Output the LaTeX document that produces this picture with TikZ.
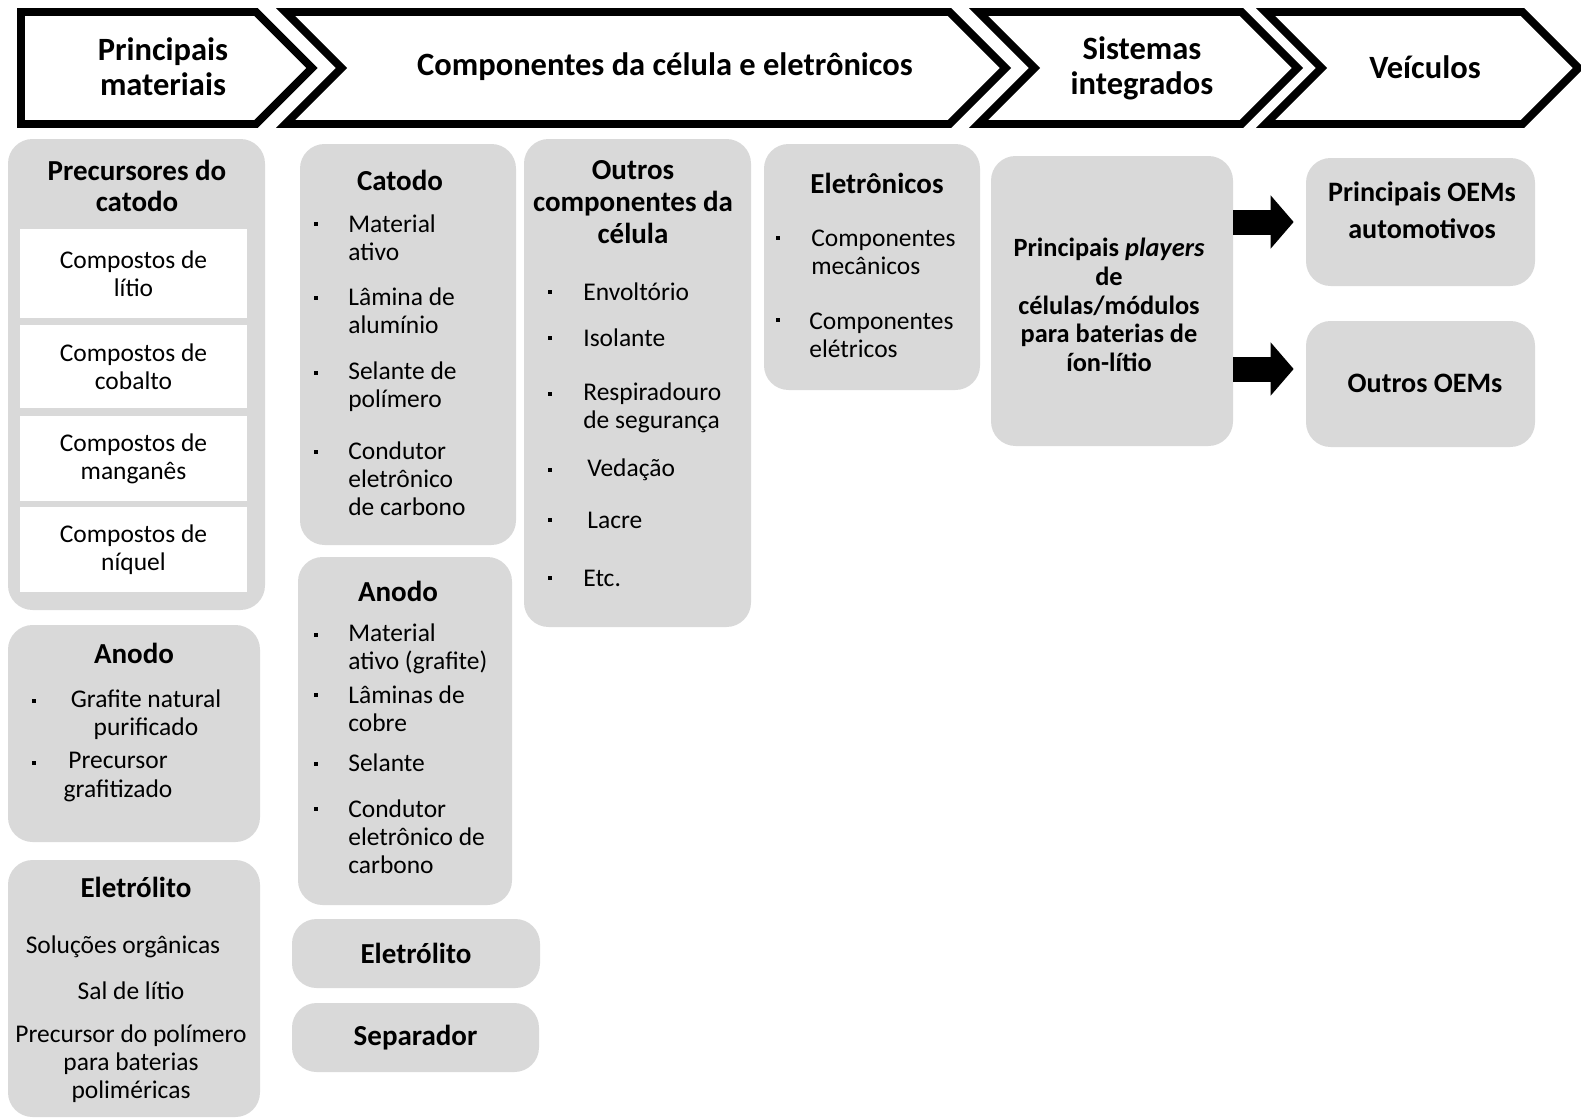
\documentclass[tikz,border=0pt]{standalone}
\usepackage{fontspec}
\setmainfont{Carlito}
\usetikzlibrary{shapes.symbols,fit,arrows.meta}

\begin{document}
\begin{tikzpicture}[x=0.02cm, y=-0.02cm, line join=miter,
    head/.style = {signal, draw, line width=4.5pt, signal to=east, inner sep=0pt,
        minimum height=2.24cm},
    headtext/.style = {font=\fontsize{18.5}{20}\selectfont\bfseries, align=center},
    graybox/.style = {fill=black!15, rounded corners=14pt, inner sep=0pt},
    whitebox/.style = {fill=white, inner sep=0pt},
    title/.style = {font=\fontsize{16.5}{18}\selectfont\bfseries, align=center},
    item/.style = {font=\fontsize{14.5}{16}\selectfont, align=left, anchor=west, inner sep=0pt},
    plain/.style = {font=\fontsize{14.5}{16}\selectfont, align=center},
    bigarrow/.style = {line width=0.5cm, -{Triangle[length=0.46cm, width=1.04cm]}, shorten >=0.24cm}]
    \useasboundingbox (0,0) rectangle (1581,1119);

    % cadeia
    \node[head, minimum width=5.82cm] (h1) at (138.5,68) {};
    \node[head, signal from=west, minimum width=14.4cm] (h2) at (645.5,68) {};
    \node[head, signal from=west, minimum width=6.38cm] (h3) at (1138,68) {};
    \node[head, signal from=west, minimum width=6.26cm] (h4) at (1422,68) {};
    \node[headtext] (h1t) at (163,67) {Principais\\materiais};
    \node[headtext] (h2t) at (665,67) {Componentes da célula e eletrônicos};
    \node[headtext] (h3t) at (1142,68) {Sistemas\\integrados};
    \node[headtext] (h4t) at (1425,67) {Veículos};

    % principais materiais
    \node[graybox, fit={(8,139) (265,610)}] (prec) {};
    \node[title] (prect) at (137,186) {Precursores do\\catodo};
    \node[whitebox, fit={(20,229) (247,318)}] (li) {};
    \node[whitebox, fit={(20,325) (247,408)}] (co) {};
    \node[whitebox, fit={(20,416) (247,501)}] (mn) {};
    \node[whitebox, fit={(20,507) (247,592)}] (ni) {};
    \node[plain] at (li) {Compostos de\\lítio};
    \node[plain] at (co) {Compostos de\\cobalto};
    \node[plain] at (mn) {Compostos de\\manganês};
    \node[plain] at (ni) {Compostos de\\níquel};

    \node[graybox, fit={(8,625) (260,842)}] (an1) {};
    \node[title] (an1t) at (134,653) {Anodo};
    \node[plain] (an1a) at (146,715) {Grafite natural\\purificado};
    \node[plain] (an1b) at (118,777) {Precursor\\grafitizado};

    \node[graybox, fit={(8,860) (260,1117)}] (el1) {};
    \node[title] (el1t) at (136,887) {Eletrólito};
    \node[plain] (el1a) at (123,947) {Soluções orgânicas};
    \node[plain] (el1b) at (131,991) {Sal de lítio};
    \node[plain] (el1c) at (131,1064) {Precursor do polímero\\para baterias\\poliméricas};

    % componentes da celula
    \node[graybox, fit={(300,144) (516,545)}] (cat) {};
    \node[title] (catt) at (400,180) {Catodo};
    \node[item] (cat1) at (348,238) {Material\\ativo};
    \node[item] (cat2) at (348,311) {Lâmina de\\alumínio};
    \node[item] (cat3) at (348,387) {Selante de\\polímero};
    \node[item] (cat4) at (348,479) {Condutor\\eletrônico\\de carbono};

    \node[graybox, fit={(298,557) (512,905)}] (an2) {};
    \node[title] (an2t) at (398,591) {Anodo};
    \node[item] (an21) at (348,649) {Material\\ativo (grafite)};
    \node[item] (an22) at (348,709) {Lâminas de\\cobre};
    \node[item] (an23) at (348,763) {Selante};
    \node[item] (an24) at (348,837) {Condutor\\eletrônico de\\carbono};

    \node[graybox, fit={(292,919) (540,988)}] (el2) {};
    \node[title] at (el2) {Eletrólito};
    \node[graybox, fit={(292,1003) (539,1072)}] (sep) {};
    \node[title] at (sep) {Separador};

    \node[graybox, fit={(524,139) (751,627)}] (out) {};
    \node[title] (outt) at (633,202) {Outros\\componentes da\\célula};
    \node[item] (out1) at (583,292) {Envoltório};
    \node[item] (out2) at (583,338) {Isolante};
    \node[item] (out3) at (583,408) {Respiradouro\\de segurança};
    \node[item] (out4) at (587,470) {Vedação};
    \node[item] (out5) at (587,520) {Lacre};
    \node[item] (out6) at (583,578) {Etc.};

    \node[graybox, fit={(764,144) (980,390)}] (elt) {};
    \node[title] (eltt) at (877,183) {Eletrônicos};
    \node[item] (elt1) at (811,252) {Componentes\\mecânicos};
    \node[item] (elt2) at (809,335) {Componentes\\elétricos};

    \foreach \x/\y in {34/701, 34/763, 316/224, 316/298, 316/373, 316/452,
        316/635, 316/695, 316/764, 316/809, 550/292, 550/338, 550/394,
        550/470, 550/520, 550/578, 778/238, 778/320}
        \fill (\x-2,\y-2) rectangle (\x+2,\y+2);

    % sistemas e veiculos
    \node[graybox, fit={(991,156) (1233,446)}] (play) {};
    \node[font=\fontsize{15}{16.3}\selectfont\bfseries, align=center] at (1109,305)
        {Principais \textit{players}\\de\\células/módulos\\para baterias de\\íon-lítio};
    \node[graybox, fit={(1306,158) (1535,286)}] (oem1) {};
    \node[font=\fontsize{16}{21}\selectfont\bfseries, align=center] at (1422,210) {Principais OEMs\\automotivos};
    \node[graybox, fit={(1306,321) (1535,447)}] (oem2) {};
    \node[font=\fontsize{16}{21}\selectfont\bfseries] at (1425,383) {Outros OEMs};

    \draw[bigarrow] (play.east |- oem1.west) -- (oem1.west);
    \draw[bigarrow, transform canvas={yshift=0.3cm}] (play.east |- oem2.west) -- (oem2.west);
\end{tikzpicture}
\end{document}
